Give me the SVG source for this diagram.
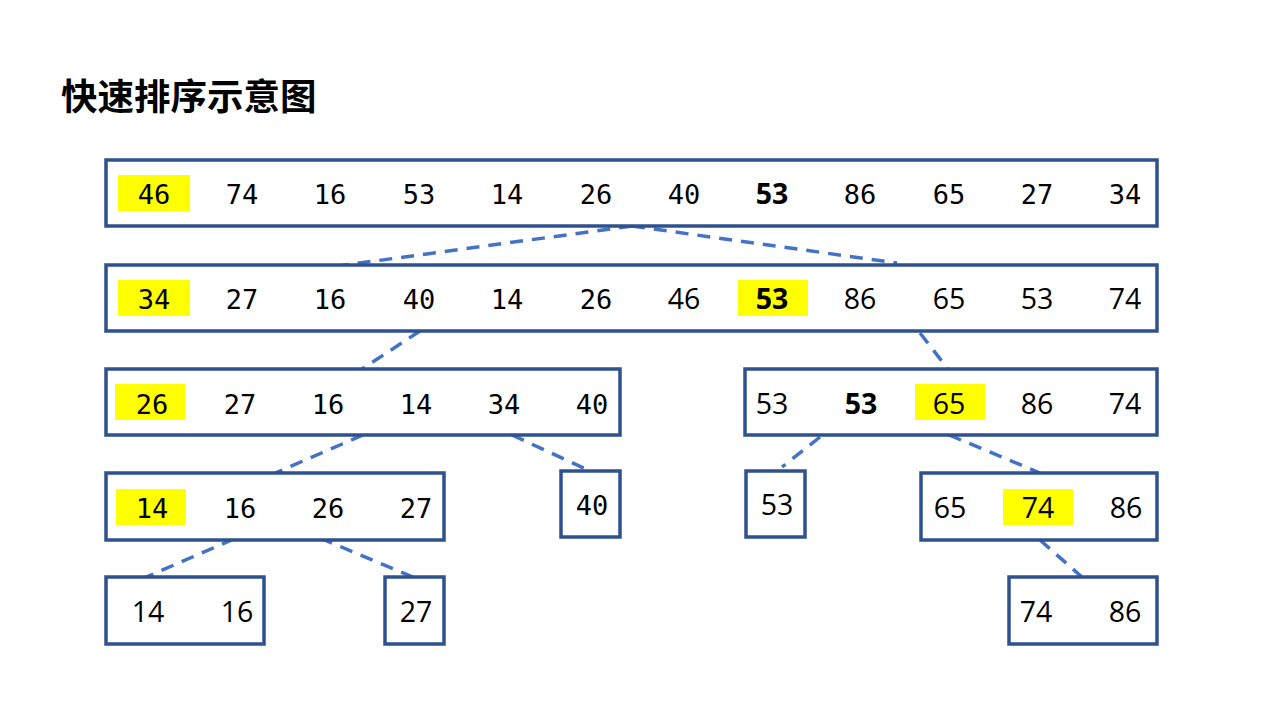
<svg xmlns="http://www.w3.org/2000/svg" width="1280" height="720" viewBox="0 0 1280 720">
<style>
.box{fill:#fff;stroke:#2F528F;stroke-width:3.5}
.hl{fill:#FFFF00}
.m{font-family:"DejaVu Sans Mono","Liberation Mono",monospace;font-size:27px;fill:#000;text-anchor:middle}
.p{font-family:"Open Sans","Noto Sans",sans-serif;font-size:28.5px;fill:#000;text-anchor:middle}
.b{font-weight:bold}
.c{fill:none;stroke:#4472C4;stroke-width:3.5;stroke-dasharray:13 9}
.t{font-family:"Noto Sans CJK SC","Noto Sans",sans-serif;font-size:36.5px;font-weight:bold;fill:#000}
</style>
<rect width="1280" height="720" fill="#fff"/>
<text class="t" x="61" y="110">快速排序示意图</text>
<g id="connectors">
<line class="c" x1="632" y1="226" x2="338" y2="266"/>
<line class="c" x1="632" y1="226" x2="897" y2="263"/>
<line class="c" x1="420" y1="331" x2="362" y2="369"/>
<line class="c" x1="920" y1="333" x2="948" y2="369"/>
<line class="c" x1="363" y1="435" x2="273" y2="474"/>
<line class="c" x1="512" y1="435" x2="590" y2="471"/>
<line class="c" x1="820" y1="437" x2="782" y2="467"/>
<line class="c" x1="949" y1="435" x2="1040" y2="473"/>
<line class="c" x1="234" y1="539" x2="144" y2="578"/>
<line class="c" x1="320" y1="538" x2="413" y2="577"/>
<line class="c" x1="1040" y1="540" x2="1083" y2="578"/>
</g>
<g id="row1">
<rect class="box" x="106" y="160" width="1051" height="66"/>
<rect class="hl" x="118" y="175" width="72" height="36"/>
<text class="m" x="154" y="204">46</text>
<text class="m" x="242" y="204">74</text>
<text class="m" x="330" y="204">16</text>
<text class="m" x="419" y="204">53</text>
<text class="m" x="507" y="204">14</text>
<text class="m" x="596" y="204">26</text>
<text class="m" x="684" y="204">40</text>
<text class="p b" x="772" y="204">53</text>
<text class="m" x="860" y="204">86</text>
<text class="m" x="949" y="204">65</text>
<text class="m" x="1037" y="204">27</text>
<text class="m" x="1125" y="204">34</text>
</g>
<g id="row2">
<rect class="box" x="106" y="265" width="1051" height="66"/>
<rect class="hl" x="118" y="280" width="72" height="36"/>
<rect class="hl" x="738" y="280" width="70" height="36"/>
<text class="m" x="154" y="309">34</text>
<text class="m" x="242" y="309">27</text>
<text class="m" x="330" y="309">16</text>
<text class="m" x="419" y="309">40</text>
<text class="m" x="507" y="309">14</text>
<text class="m" x="596" y="309">26</text>
<text class="p" x="684" y="309">46</text>
<text class="p b" x="772" y="309">53</text>
<text class="p" x="860" y="309">86</text>
<text class="p" x="949" y="309">65</text>
<text class="p" x="1037" y="309">53</text>
<text class="p" x="1125" y="309">74</text>
</g>
<g id="row3-left">
<rect class="box" x="106" y="369" width="514" height="66"/>
<rect class="hl" x="115" y="384" width="70" height="36"/>
<text class="m" x="152" y="414">26</text>
<text class="m" x="240" y="414">27</text>
<text class="m" x="328" y="414">16</text>
<text class="m" x="416" y="414">14</text>
<text class="m" x="504" y="414">34</text>
<text class="m" x="592" y="414">40</text>
</g>
<g id="row3-right">
<rect class="box" x="745" y="369" width="412" height="66"/>
<rect class="hl" x="915" y="384" width="70" height="36"/>
<text class="p" x="772" y="414">53</text>
<text class="p b" x="861" y="414">53</text>
<text class="p" x="949" y="414">65</text>
<text class="p" x="1037" y="414">86</text>
<text class="p" x="1125" y="414">74</text>
</g>
<g id="row4-a">
<rect class="box" x="106" y="473" width="338" height="67"/>
<rect class="hl" x="116" y="489" width="70" height="36"/>
<text class="m" x="152" y="518">14</text>
<text class="m" x="240" y="518">16</text>
<text class="m" x="328" y="518">26</text>
<text class="m" x="416" y="518">27</text>
</g>
<g id="row4-b">
<rect class="box" x="561" y="471" width="59" height="66"/>
<text class="m" x="592" y="515">40</text>
</g>
<g id="row4-c">
<rect class="box" x="746" y="471" width="59" height="66"/>
<text class="p" x="777" y="515">53</text>
</g>
<g id="row4-d">
<rect class="box" x="921" y="473" width="236" height="67"/>
<rect class="hl" x="1003" y="489" width="70" height="36"/>
<text class="p" x="950" y="518">65</text>
<text class="p" x="1038" y="518">74</text>
<text class="p" x="1126" y="518">86</text>
</g>
<g id="row5-a">
<rect class="box" x="106" y="577" width="158" height="67"/>
<text class="p" x="148" y="622">14</text>
<text class="p" x="237" y="622">16</text>
</g>
<g id="row5-b">
<rect class="box" x="385" y="577" width="59" height="67"/>
<text class="p" x="416" y="622">27</text>
</g>
<g id="row5-c">
<rect class="box" x="1009" y="577" width="148" height="67"/>
<text class="p" x="1036" y="622">74</text>
<text class="p" x="1125" y="622">86</text>
</g>
</svg>
